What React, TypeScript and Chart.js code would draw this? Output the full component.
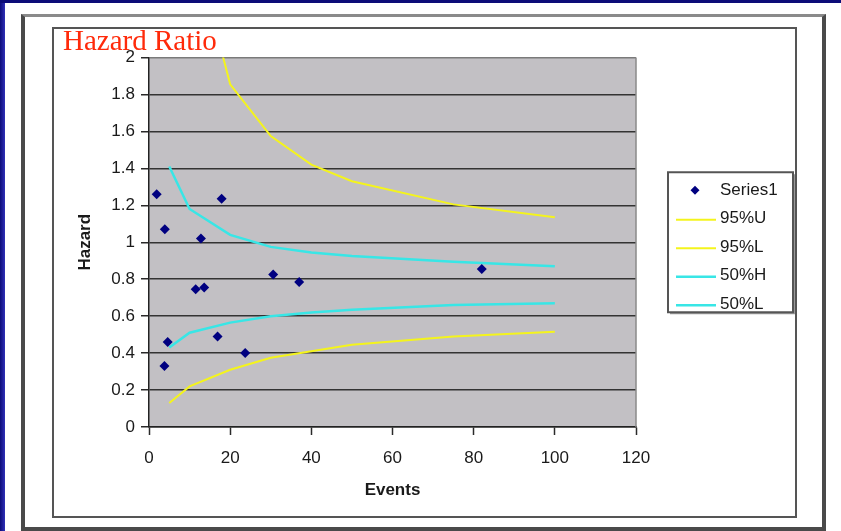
import React, { useEffect, useRef } from 'react';
import { Chart, registerables } from 'chart.js';

Chart.register(...registerables);

// ---- data ----
const seriesLabels = ['Series1', '95%U', '95%L', '50%H', '50%L'];
const pointEvents = [1.9, 3.9, 3.8, 4.6, 11.5, 13.6, 12.8, 17.9, 16.9, 23.7, 30.6, 37, 82];
const pointHazard = [1.26, 1.07, 0.33, 0.46, 0.745, 0.755, 1.02, 1.235, 0.49, 0.4, 0.825, 0.785, 0.855];
const limitEvents = [5, 10, 20, 30, 40, 50, 75, 100];
const upper95 = [null, 2.7, 1.855, 1.575, 1.42, 1.33, 1.205, 1.135];
const lower95 = [0.13, 0.22, 0.31, 0.375, 0.41, 0.445, 0.49, 0.515];
const high50 = [1.41, 1.18, 1.04, 0.975, 0.945, 0.925, 0.895, 0.87];
const low50 = [0.43, 0.51, 0.565, 0.6, 0.62, 0.635, 0.66, 0.67];
const xMin = 0;
const xMax = 120;
const xStep = 20;
const yMin = 0;
const yMax = 2;
const yStep = 0.2;
const chartTitle = 'Hazard Ratio';
const xTitle = 'Events';
const yTitle = 'Hazard';

const FONT = '"Liberation Sans", Arial, Helvetica, sans-serif';
const YELLOW = '#f4f41c';
const CYAN = '#38e6e6';
const NAVY = '#000080';

const toPoints = (xs: number[], ys: (number | null)[]) => xs.map((x, i) => ({ x, y: ys[i] }));
const fmtTick = (v: any) => String(Number(Number(v).toFixed(1)));

const plotBackground = {
  id: 'plotBackground',
  beforeDraw(chart: any) {
    const { ctx, chartArea: a } = chart;
    ctx.save();
    ctx.fillStyle = '#c2c0c4';
    ctx.fillRect(a.left, a.top, a.right - a.left, a.bottom - a.top);
    ctx.restore();
  },
  beforeDatasetsDraw(chart: any) {
    const { ctx, chartArea: a } = chart;
    ctx.save();
    ctx.strokeStyle = '#8a8a8a';
    ctx.lineWidth = 1.5;
    ctx.beginPath();
    ctx.moveTo(a.right, a.top);
    ctx.lineTo(a.right, a.bottom);
    ctx.stroke();
    ctx.restore();
  },
};

const boxLegend = {
  id: 'boxLegend',
  afterDraw(chart: any) {
    const { ctx, chartArea: a } = chart;
    const width = 125;
    const height = 140;
    const left = a.right + 32;
    const top = (a.top + a.bottom) / 2 - height / 2;
    ctx.save();
    ctx.fillStyle = '#9a9a9a';
    ctx.fillRect(left + 2, top + 2, width, height);
    ctx.fillStyle = '#ffffff';
    ctx.fillRect(left, top, width, height);
    ctx.strokeStyle = '#555';
    ctx.lineWidth = 2;
    ctx.strokeRect(left, top, width, height);
    ctx.font = `17px ${FONT}`;
    ctx.textBaseline = 'middle';
    ctx.textAlign = 'left';
    chart.data.datasets.forEach((ds: any, i: number) => {
      const y = top + 18 + i * 28.5;
      if (ds.showLine) {
        ctx.strokeStyle = ds.borderColor;
        ctx.lineWidth = ds.borderWidth;
        ctx.beginPath();
        ctx.moveTo(left + 8, y + 1);
        ctx.lineTo(left + 48, y + 1);
        ctx.stroke();
      } else {
        const cx = left + 27;
        const r = 4.5;
        ctx.fillStyle = ds.backgroundColor;
        ctx.beginPath();
        ctx.moveTo(cx, y - r);
        ctx.lineTo(cx + r, y);
        ctx.lineTo(cx, y + r);
        ctx.lineTo(cx - r, y);
        ctx.closePath();
        ctx.fill();
      }
      ctx.fillStyle = '#1a1a1a';
      ctx.fillText(ds.label, left + 52, y);
    });
    ctx.restore();
  },
};

function HazardChart() {
  const ref = useRef<HTMLCanvasElement | null>(null);
  useEffect(() => {
    if (!ref.current) return;
    const lineDs = (label: string, ys: (number | null)[], color: string, w: number) => ({
      label,
      data: toPoints(limitEvents, ys),
      showLine: true,
      borderColor: color,
      backgroundColor: color,
      borderWidth: w,
      pointRadius: 0,
      pointHoverRadius: 0,
      tension: 0,
      spanGaps: false,
    });
    const chart = new Chart(ref.current, {
      type: 'scatter',
      data: {
        datasets: [
          {
            label: seriesLabels[0],
            data: toPoints(pointEvents, pointHazard),
            showLine: false,
            pointStyle: 'rectRot',
            pointRadius: 5,
            backgroundColor: NAVY,
            borderColor: NAVY,
            borderWidth: 0,
          } as any,
          lineDs(seriesLabels[1], upper95, YELLOW, 2),
          lineDs(seriesLabels[2], lower95, YELLOW, 2),
          lineDs(seriesLabels[3], high50, CYAN, 2.5),
          lineDs(seriesLabels[4], low50, CYAN, 2.5),
        ],
      },
      options: {
        responsive: false,
        animation: false,
        layout: { padding: { left: 17, right: 159, top: 28.5, bottom: 11 } },
        plugins: {
          legend: { display: false },
          title: { display: false },
          tooltip: { enabled: false },
        },
        scales: {
          x: {
            type: 'linear',
            min: xMin,
            max: xMax,
            afterFit: (s: any) => {
              s.height = 78;
            },
            ticks: { stepSize: xStep, padding: 13, color: '#1a1a1a', font: { size: 17, family: FONT }, callback: fmtTick },
            grid: { drawOnChartArea: false, drawTicks: true, tickLength: 8, tickColor: '#2a2a2a', tickWidth: 1.5 },
            border: { display: true, color: '#222', width: 1.5 },
            title: { display: true, text: xTitle, color: '#1a1a1a', font: { size: 17, weight: 'bold', family: FONT } },
          },
          y: {
            type: 'linear',
            min: yMin,
            max: yMax,
            afterFit: (s: any) => {
              s.width = 78;
            },
            ticks: { stepSize: yStep, padding: 6, color: '#1a1a1a', font: { size: 17, family: FONT }, callback: fmtTick },
            grid: {
              color: (c: any) => (c.tick && c.tick.value === yMax ? '#7a7a7a' : '#333333'),
              lineWidth: 1.5,
              tickLength: 8,
              tickColor: '#2a2a2a',
              tickWidth: 1.5,
            },
            border: { display: true, color: '#222', width: 1.5 },
            title: { display: true, text: yTitle, color: '#1a1a1a', font: { size: 17, weight: 'bold', family: FONT } },
          },
        },
      } as any,
      plugins: [plotBackground, boxLegend],
    });
    return () => chart.destroy();
  }, []);
  return <canvas ref={ref} width={741} height={487} style={{ display: 'block', width: 741, height: 487 }} />;
}

export default function App() {
  return (
    <div
      style={{
        position: 'fixed',
        left: 0,
        top: 0,
        width: 841,
        height: 531,
        background: '#ffffff',
        overflow: 'hidden',
      }}
    >
      <div style={{ position: 'absolute', left: 0, top: 0, width: 5, height: 531, background: 'linear-gradient(to right, #0c0c78, #3030b8)' }} />
      <div style={{ position: 'absolute', left: 0, top: 0, width: 841, height: 3, background: '#0c0c78' }} />
      <div
        style={{
          position: 'absolute',
          left: 21,
          top: 14,
          width: 805,
          height: 517,
          boxSizing: 'border-box',
          borderTop: '3px solid #8a8a8a',
          borderLeft: '4px solid #4a4a4a',
          borderRight: '4px solid #4a4a4a',
          borderBottom: '4px solid #4a4a4a',
        }}
      />
      <div
        style={{
          position: 'absolute',
          left: 52,
          top: 27,
          width: 745,
          height: 491,
          boxSizing: 'border-box',
          border: '2px solid #555555',
        }}
      />
      <div style={{ position: 'absolute', left: 54, top: 29 }}>
        <HazardChart />
      </div>
      <div
        style={{
          position: 'absolute',
          left: 63,
          top: 26,
          fontFamily: '"Liberation Serif", "Times New Roman", serif',
          fontSize: 29,
          lineHeight: '28px',
          color: '#ff2a0a',
          whiteSpace: 'nowrap',
        }}
      >
        {chartTitle}
      </div>
    </div>
  );
}
